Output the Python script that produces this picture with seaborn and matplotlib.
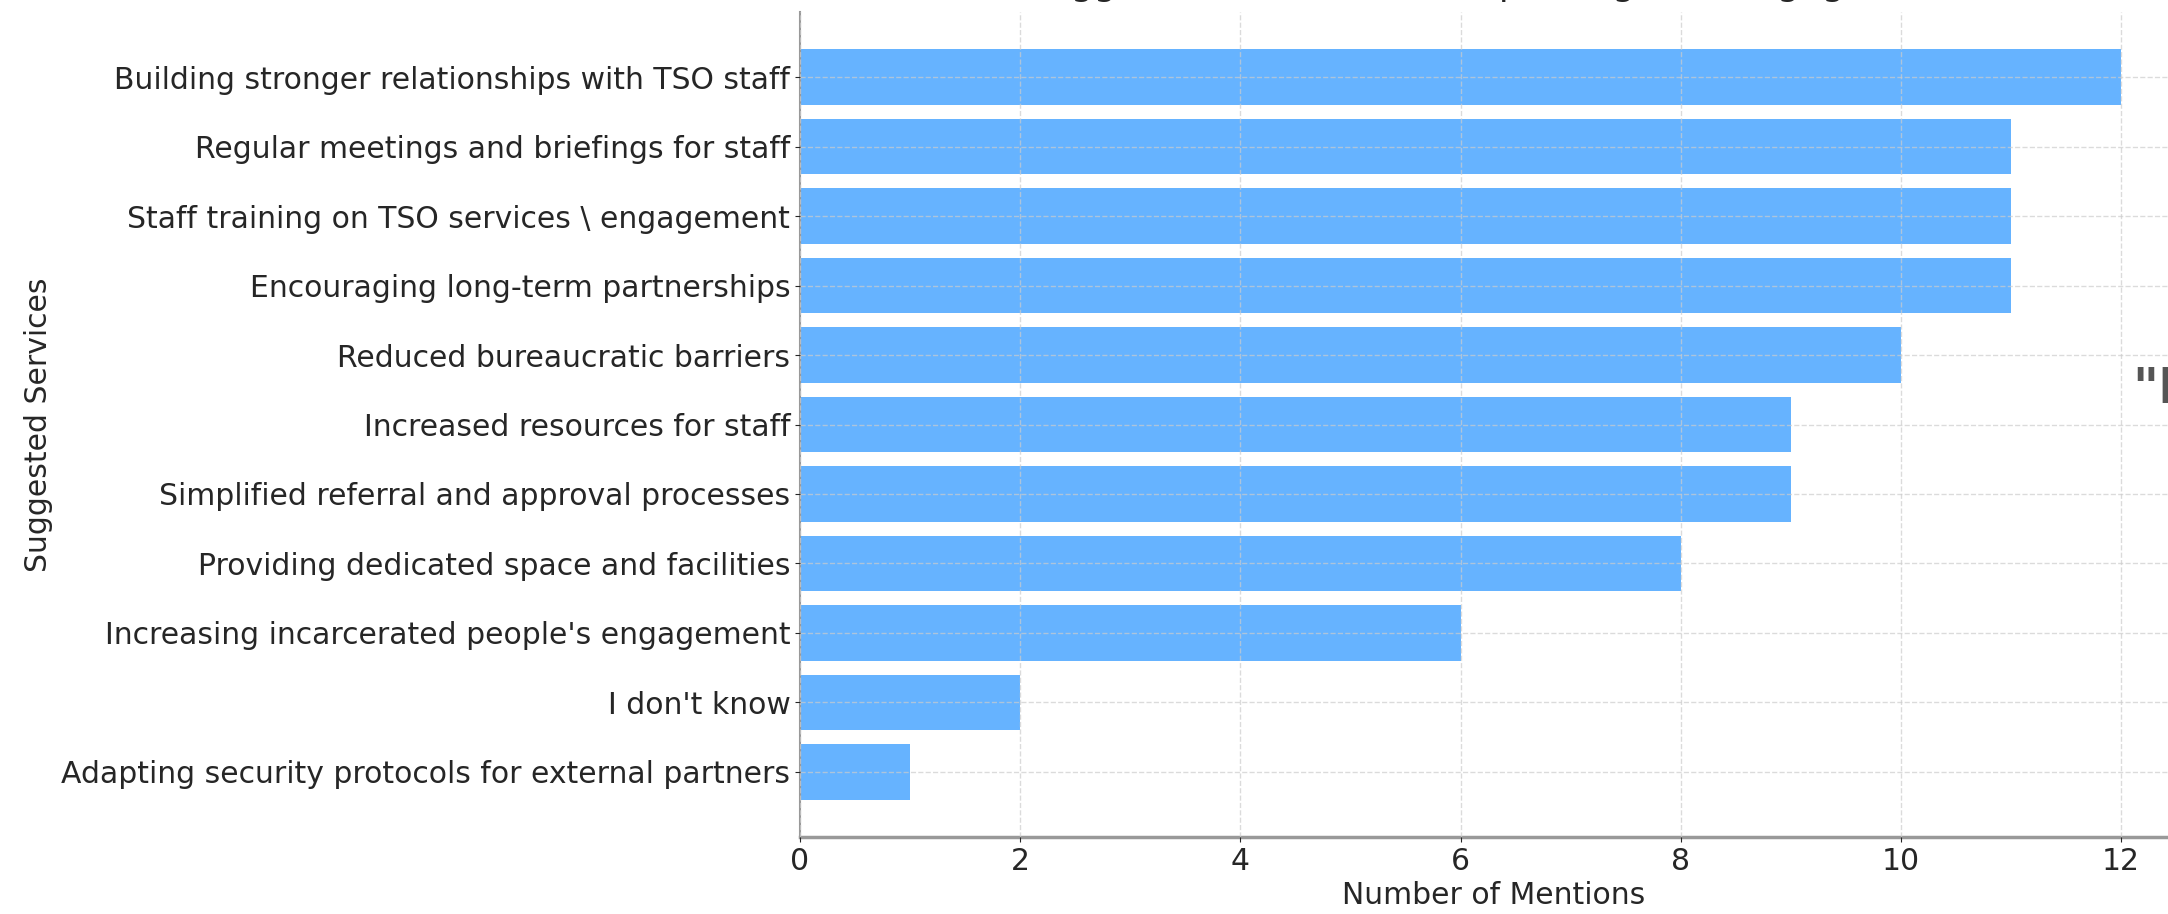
import matplotlib
matplotlib.use("Agg")
import matplotlib.pyplot as plt
import seaborn as sns
import pandas as pd

# Suggested services and how often they were mentioned
services = [
    "Building stronger relationships with TSO staff",
    "Regular meetings and briefings for staff",
    "Staff training on TSO services \\ engagement",
    "Encouraging long-term partnerships",
    "Reduced bureaucratic barriers",
    "Increased resources for staff",
    "Simplified referral and approval processes",
    "Providing dedicated space and facilities",
    "Increasing incarcerated people's engagement",
    "I don't know",
    "Adapting security protocols for external partners",
]
mentions = [12, 11, 11, 11, 10, 9, 9, 8, 6, 2, 1]
x_ticks = [0, 2, 4, 6, 8, 10, 12]

df = pd.DataFrame({"service": services, "mentions": mentions})

plt.rcParams["font.family"] = ["DejaVu Sans"]
plt.rcParams["text.color"] = "#262626"
plt.rcParams["axes.labelcolor"] = "#262626"
plt.rcParams["xtick.color"] = "#262626"
plt.rcParams["ytick.color"] = "#262626"

fig = plt.figure(figsize=(21.68, 9.14), dpi=100)
ax = fig.add_axes([0.369, 0.0842, 0.6398, 0.9027])

sns.barplot(data=df, x="mentions", y="service", orient="h",
            color="#66b3ff", saturation=1, width=0.8, ax=ax)

ax.set_xlim(0, 12.6)
ax.set_ylim(10.94, -0.94)
ax.set_xticks(x_ticks)
ax.set_axisbelow(False)
ax.grid(True, axis="both", linestyle="--", color="#cccccc", linewidth=1, alpha=0.7)

for s in ["top", "right"]:
    ax.spines[s].set_visible(False)
for s in ["left", "bottom"]:
    ax.spines[s].set_color("#999999")
ax.spines["bottom"].set_linewidth(2.5)
ax.spines["left"].set_linewidth(1.5)

ax.tick_params(axis="both", labelsize=21.5)
ax.set_xlabel("Number of Mentions", fontsize=21.5)
ax.set_ylabel("Suggested Services", fontsize=21.5, labelpad=6)

# title sits mostly above the visible area, only its descenders show
ax.set_title("Suggested Services for Improving TSO Engagement",
             fontsize=26, pad=12)

# start of a quote from a neighbouring panel, cut at the right edge
fig.text(0.9835, 0.559, "\"I", fontsize=36, fontweight="bold", color="#555555")

fig.savefig("out.png", dpi=100)
